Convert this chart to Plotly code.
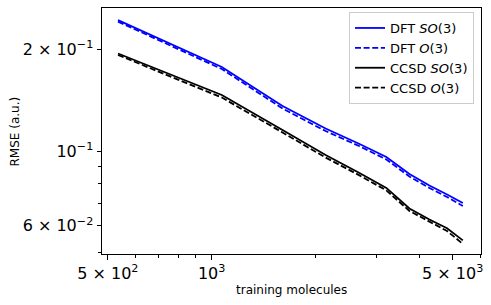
import plotly.graph_objects as go

# training set sizes (molecules)
train_sizes = [535, 1070, 1605, 2140, 2675, 3210, 3745, 4280, 4815, 5350]

dft_so3 = [0.2446, 0.1775, 0.1360, 0.1166, 0.1051, 0.0960, 0.0855, 0.0790, 0.0743, 0.0701]
dft_o3 = [0.2421, 0.1751, 0.1337, 0.1146, 0.1035, 0.0944, 0.0840, 0.0777, 0.0730, 0.0687]
ccsd_so3 = [0.1947, 0.1466, 0.1154, 0.0973, 0.0862, 0.0777, 0.0675, 0.0626, 0.0590, 0.0543]
ccsd_o3 = [0.1927, 0.1441, 0.1135, 0.0956, 0.0848, 0.0764, 0.0664, 0.0616, 0.0579, 0.0530]

series_names = ["DFT <i>SO</i>(3)", "DFT <i>O</i>(3)", "CCSD <i>SO</i>(3)", "CCSD <i>O</i>(3)"]

x_tickvals = [500, 1000, 5000]
x_ticktext = ["5 × 10<sup>2</sup>", "10<sup>3</sup>", "5 × 10<sup>3</sup>"]
x_minor = [600, 700, 800, 900, 2000, 3000, 4000, 6000]
y_tickvals = [0.06, 0.1, 0.2]
y_ticktext = ["6 × 10<sup>−2</sup>", "10<sup>−1</sup>", "2 × 10<sup>−1</sup>"]
y_minor = [0.05, 0.07, 0.08, 0.09, 0.3]

fig = go.Figure()
styles = [("blue", "solid"), ("blue", "6px,2.6px"), ("black", "solid"), ("black", "6px,2.6px")]
for name, ys, (c, d) in zip(series_names, [dft_so3, dft_o3, ccsd_so3, ccsd_o3], styles):
    fig.add_trace(go.Scatter(x=train_sizes, y=ys, mode="lines", name=name,
                             line=dict(color=c, width=1.8, dash=d)))

axis_common = dict(showgrid=False, zeroline=False, showline=True, linecolor="black",
                   linewidth=1, mirror=True, ticks="outside", ticklen=4.5, tickwidth=1,
                   tickcolor="black", automargin=False,
                   tickfont=dict(family="DejaVu Sans", size=16, color="black"))

fig.update_xaxes(type="log", range=[2.682, 3.781], tickmode="array", tickvals=x_tickvals,
                 ticktext=x_ticktext,
                 minor=dict(tickmode="array", tickvals=x_minor, ticks="outside", ticklen=2.7,
                            tickwidth=0.8, tickcolor="black"),
                 **axis_common)
fig.update_yaxes(type="log", range=[-1.3056, -0.5757], tickmode="array", tickvals=y_tickvals,
                 ticktext=y_ticktext,
                 minor=dict(tickmode="array", tickvals=y_minor, ticks="outside", ticklen=2.7,
                            tickwidth=0.8, tickcolor="black"),
                 **axis_common)

fig.add_annotation(text="training molecules", xref="paper", yref="paper",
                   x=(291.5 - 102) / 379, y=-(290 - 254) / 246, xanchor="center", yanchor="middle",
                   showarrow=False, font=dict(family="DejaVu Sans", size=12, color="black"))
fig.add_annotation(text="RMSE (a.u.)", xref="paper", yref="paper",
                   x=-(102 - 14) / 379, y=1 - (131.5 - 8) / 246, xanchor="center", yanchor="middle",
                   textangle=-90, showarrow=False,
                   font=dict(family="DejaVu Sans", size=12, color="black"))

fig.update_layout(
    width=491, height=305,
    margin=dict(l=102, r=10, t=8, b=51),
    plot_bgcolor="white", paper_bgcolor="white",
    legend=dict(x=(474 - 102) / 379, y=1 - (12 - 8) / 246, xanchor="right", yanchor="top",
                bgcolor="rgba(255,255,255,0.8)", bordercolor="#cccccc", borderwidth=1,
                font=dict(family="DejaVu Sans", size=13, color="black"),
                tracegroupgap=0, itemwidth=30),
    showlegend=True,
)

fig.write_html("out.html", config={"displayModeBar": False},
               post_script="document.body.style.margin='0';")
